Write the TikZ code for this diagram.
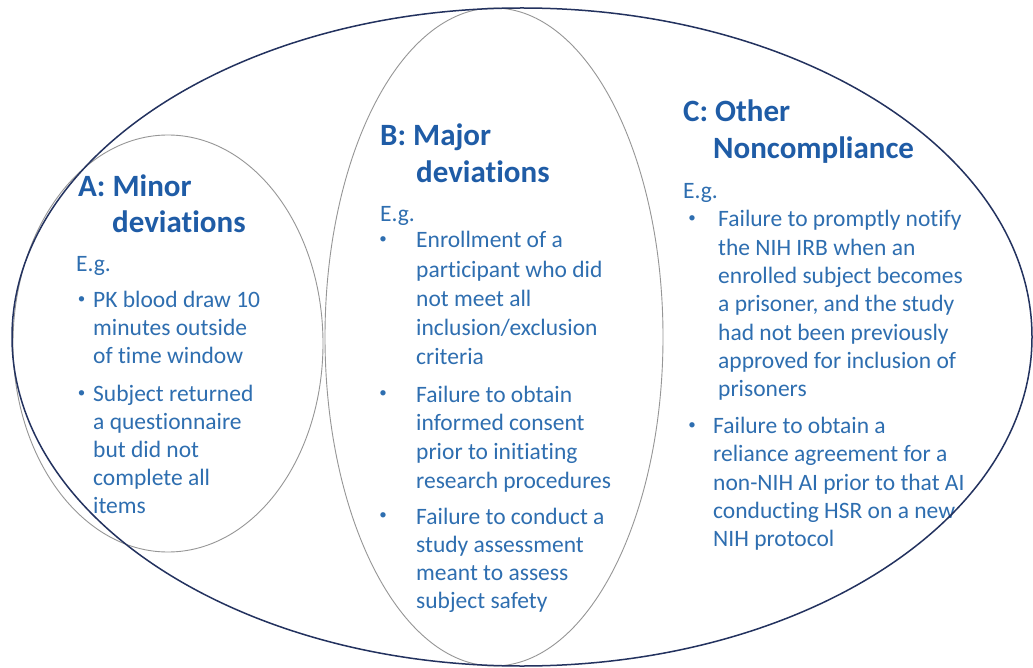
\documentclass[tikz,border=0pt]{standalone}
\usepackage{fontspec}
\setmainfont{Carlito}[Ligatures={NoCommon}]
\definecolor{titleblue}{RGB}{31,92,166}
\definecolor{bodyblue}{RGB}{46,110,176}
\definecolor{outerline}{RGB}{35,50,95}
\definecolor{innerline}{RGB}{150,150,150}
\begin{document}
\begin{tikzpicture}[x=1pt,y=-1pt,
  ttl/.style={font=\fontsize{31}{37}\selectfont\bfseries, text=titleblue, anchor=base west, inner sep=0pt},
  txt/.style={font=\fontsize{23.5}{28}\selectfont, text=bodyblue, anchor=base west, inner sep=0pt},
  bul/.style={font=\fontsize{15}{18}\selectfont, text=bodyblue, anchor=center, inner sep=0pt},
  outerring/.style={draw=outerline, line width=1.5pt},
  innerring/.style={draw=innerline, line width=0.9pt}]
\useasboundingbox (0,0) rectangle (1033,668);
\fill[white] (0,0) rectangle (1033,668);

% ---- A ----
\node[ttl] (ta1) at (78,197) {A: Minor};
\node[ttl] (ta2) at (112,233) {deviations};
\node[txt] (ega) at (76,271.5) {E.g.};
\node[bul] (bula1) at (81.5,300) {•};
\foreach \t [count=\i] in {PK blood draw 10, minutes outside, of time window}
  \node[txt] (a1l\i) at (93,{307.5+28.2*(\i-1)}) {\t};
\node[bul] (bula2) at (81.5,394) {•};
\foreach \t [count=\i] in {Subject returned, a questionnaire, but did not, complete all, items}
  \node[txt] (a2l\i) at (93,{401.7+27.9*(\i-1)}) {\t};

% ---- B ----
\node[ttl] (tb1) at (380,146) {B: Major};
\node[ttl] (tb2) at (416,183) {deviations};
\node[txt] (egb) at (380,222) {E.g.};
\node[bul] (bulb1) at (383,240) {•};
\foreach \t [count=\i] in {Enrollment of a, participant who did, not meet all, inclusion/exclusion, criteria}
  \node[txt] (b1l\i) at (416,{248+29.1*(\i-1)}) {\t};
\node[bul] (bulb2) at (383,394.5) {•};
\foreach \t [count=\i] in {Failure to obtain, informed consent, prior to initiating, research procedures}
  \node[txt] (b2l\i) at (416,{402+28.7*(\i-1)}) {\t};
\node[bul] (bulb3) at (383,516.5) {•};
\foreach \t [count=\i] in {Failure to conduct a, study assessment, meant to assess, subject safety}
  \node[txt] (b3l\i) at (416,{524+28.3*(\i-1)}) {\t};

% ---- C ----
\node[ttl] (tc1) at (683,122) {C: Other};
\node[ttl] (tc2) at (713,159) {Noncompliance};
\node[txt] (egc) at (683,198.5) {E.g.};
\node[bul] (bulc1) at (692,219.5) {•};
\foreach \t [count=\i] in {Failure to promptly notify, the NIH IRB when an, enrolled subject becomes, {a prisoner, and the study}, had not been previously, approved for inclusion of, prisoners}
  \node[txt] (c1l\i) at (718,{227+28.3*(\i-1)}) {\t};
\node[bul] (bulc2) at (692,426) {•};
\foreach \t [count=\i] in {Failure to obtain a, reliance agreement for a, non-NIH AI prior to that AI, conducting HSR on a new, NIH protocol}
  \node[txt] (c2l\i) at (713,{433.5+28.3*(\i-1)}) {\t};

% ---- rings ----
\path[innerring] (168,343.5) ellipse [x radius=155pt, y radius=208.5pt];
\path[innerring] (494,337) ellipse [x radius=169pt, y radius=329pt];
\path[outerring] (522,337) ellipse [x radius=510pt, y radius=329pt];
\end{tikzpicture}
\end{document}
